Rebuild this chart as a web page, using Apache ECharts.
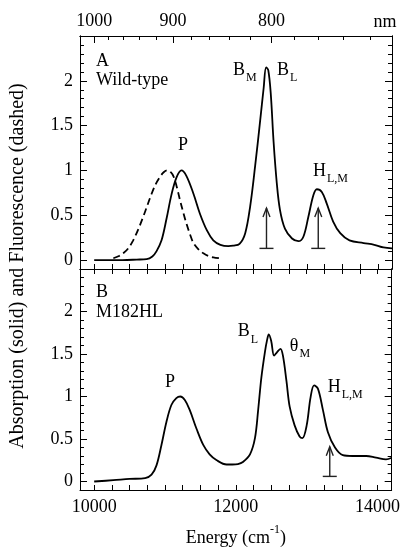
<!DOCTYPE html>
<html><head><meta charset="utf-8">
<script src="https://cdn.jsdelivr.net/npm/echarts@6/dist/echarts.min.js"></script>
<style>html,body{margin:0;padding:0;background:#fff}#c{width:403px;height:548px}</style>
</head><body><div id="c"></div>
<script>
const FONT = 'Liberation Serif';

// ---- data (energy in cm^-1, normalized intensity) ----
const absWildType = [[10000,0.0],[10200,0.0],[10400,0.0],[10600,0.005],[10740,0.01],[10820,0.04],[10880,0.1],[10950,0.22],[11020,0.46],[11090,0.73],[11160,0.92],[11230,1.0],[11300,0.94],[11400,0.74],[11490,0.52],[11590,0.33],[11680,0.22],[11780,0.17],[11890,0.155],[11960,0.16],[12050,0.18],[12130,0.30],[12200,0.6],[12270,1.05],[12340,1.55],[12390,1.92],[12425,2.15],[12455,2.12],[12490,1.86],[12530,1.32],[12575,0.86],[12620,0.56],[12690,0.35],[12790,0.24],[12880,0.21],[12950,0.26],[13020,0.48],[13090,0.72],[13140,0.79],[13210,0.76],[13280,0.63],[13370,0.43],[13470,0.30],[13600,0.22],[13800,0.19],[13950,0.17],[14080,0.14],[14200,0.13]];
const fluWildType = [[10270,0.02],[10350,0.045],[10410,0.075],[10480,0.13],[10550,0.22],[10620,0.34],[10690,0.48],[10750,0.61],[10810,0.74],[10870,0.85],[10930,0.93],[10980,0.98],[11030,1.0],[11080,0.98],[11120,0.93],[11160,0.83],[11210,0.67],[11260,0.52],[11300,0.41],[11350,0.29],[11400,0.19],[11470,0.12],[11540,0.075],[11610,0.045],[11680,0.03],[11770,0.02]];
const absM182HL = [[10000,0.0],[10270,0.015],[10500,0.03],[10720,0.04],[10810,0.08],[10880,0.19],[10950,0.43],[11020,0.70],[11090,0.90],[11160,0.98],[11215,1.0],[11280,0.96],[11350,0.84],[11445,0.62],[11540,0.43],[11630,0.32],[11730,0.25],[11870,0.20],[11950,0.20],[12030,0.205],[12100,0.23],[12200,0.32],[12270,0.51],[12315,0.84],[12360,1.22],[12410,1.52],[12440,1.66],[12465,1.73],[12500,1.65],[12540,1.48],[12580,1.52],[12630,1.56],[12665,1.48],[12715,1.18],[12760,0.88],[12830,0.66],[12900,0.53],[12940,0.51],[13000,0.66],[13055,0.99],[13105,1.13],[13160,1.09],[13230,0.84],[13300,0.58],[13400,0.40],[13510,0.31],[13650,0.30],[13840,0.30],[13980,0.28],[14120,0.26],[14200,0.28]];

// arrows: [energy, from, to]
const arrowsWildType = [[12430,0.13,0.58],[13160,0.13,0.58]];
const arrowsM182HL = [[13326,0.06,0.41]];

// annotations: [energy, value, rich text, align]
const labelsWildType = [
  [10026,2.21,'{m|A}','left'],
  [10026,1.99,'{m|Wild-type}','left'],
  [11958,2.11,'{m|B}{s|M}','left'],
  [12579,2.11,'{m|B}{s|L}','left'],
  [11253,1.27,'{m|P}','center'],
  [13086,0.98,'{m|H}{s|L,M}','left']
];
const labelsM182HL = [
  [10026,2.21,'{m|B}','left'],
  [10026,1.98,'{m|M182HL}','left'],
  [11069,1.15,'{m|P}','center'],
  [12028,1.75,'{m|B}{s|L}','left'],
  [12762,1.58,'{m|θ}{s|M}','left'],
  [13298,1.10,'{m|H}{s|L,M}','left']
];

// ticks / labels
const energyLabels = [10000,12000,14000];
const energyTicks = [10000,10250,10500,10750,11000,11250,11500,11750,12000,12250,12500,12750,13000,13250,13500,13750,14000];
const nmLabels = [1000,900,800];
const nmTicks = [1000,980,960,940,920,900,880,860,840,820,800,780,760,740,720];
const yLabels = [0,0.5,1,1.5,2];
const yMinorTicks = [-0.1,0,0.1,0.2,0.3,0.4,0.5,0.6,0.7,0.8,0.9,1,1.1,1.2,1.3,1.4,1.5,1.6,1.7,1.8,1.9,2,2.1,2.2,2.3,2.4,2.5];

const X_MIN = 9800, X_MAX = 14200, Y_MIN = -0.1, Y_MAX = 2.5;

const RICH = {
  m: {fontSize: 18, fontFamily: FONT, lineHeight: 20, verticalAlign: 'top', color: '#000'},
  s: {fontSize: 12, fontFamily: FONT, lineHeight: 12, padding: [11,0,0,1], verticalAlign: 'top', color: '#000'}
};

const line = {show: true, onZero: false, lineStyle: {color: '#000', width: 1}};
function xAx(grid, pos, ticks, len, extra) {
  return Object.assign({
    type: 'value', gridIndex: grid, position: pos, min: X_MIN, max: X_MAX,
    splitLine: {show: false}, axisLine: line,
    axisTick: {show: true, inside: true, length: len, customValues: ticks, lineStyle: {color: '#000', width: 1}},
    axisLabel: {show: false}
  }, extra || {});
}
function yAx(grid, pos, ticks, len, labels) {
  const a = {
    type: 'value', gridIndex: grid, position: pos, min: Y_MIN, max: Y_MAX,
    splitLine: {show: false}, axisLine: line,
    axisTick: {show: true, inside: true, length: len, customValues: ticks, lineStyle: {color: '#000', width: 1}},
    axisLabel: {show: false}
  };
  if (labels) a.axisLabel = {show: true, customValues: labels, margin: 7, fontSize: 18, fontFamily: FONT, color: '#000', formatter: v => String(v)};
  return a;
}

function arrowRender(arr) {
  return function (params, api) {
    const d = arr[params.dataIndex];
    const b = api.coord([d[0], d[1]]), t = api.coord([d[0], d[2]]);
    const st = {stroke: '#222', lineWidth: 1.4, fill: null};
    return {type: 'group', children: [
      {type: 'line', shape: {x1: b[0], y1: b[1], x2: t[0], y2: t[1]}, style: st},
      {type: 'polyline', shape: {points: [[t[0]-3.5, t[1]+9], [t[0], t[1]], [t[0]+3.5, t[1]+9]]}, style: st},
      {type: 'line', shape: {x1: b[0]-7, y1: b[1], x2: b[0]+7, y2: b[1]}, style: st}
    ]};
  };
}
function labelRender(arr) {
  return function (params, api) {
    const d = arr[params.dataIndex];
    const p = api.coord([d[0], d[1]]);
    return {type: 'text', x: p[0], y: p[1], style: {text: d[2], rich: RICH, fill: '#000', fontSize: 18, fontFamily: FONT, align: d[3], verticalAlign: 'middle'}};
  };
}

const option = {
  animation: false,
  backgroundColor: '#fff',
  textStyle: {fontFamily: FONT},
  grid: [
    {left: 80, top: 36, width: 312, height: 233},
    {left: 80, top: 269, width: 312, height: 232}
  ],
  xAxis: [
    xAx(0, 'bottom', energyTicks, 5),
    xAx(0, 'top', nmLabels.map(n => 1e7/n), 7, {axisLabel: {show: true, customValues: nmLabels.map(n => 1e7/n), margin: 6, fontSize: 18, fontFamily: FONT, color: '#000', formatter: v => String(Math.round(1e7/v))}}),
    xAx(0, 'top', nmTicks.map(n => 1e7/n), 4),
    xAx(1, 'bottom', energyTicks, 5, {
      axisLabel: {show: true, customValues: energyLabels, margin: 8, fontSize: 18, fontFamily: FONT, color: '#000', formatter: v => String(v)},
      name: '{n|Energy (cm}{u|-1}{n|)}', nameLocation: 'middle', nameGap: 34,
      nameTextStyle: {fontFamily: FONT, rich: {
        n: {fontSize: 18, fontFamily: FONT, color: '#000', lineHeight: 18, padding: [5,0,0,0], verticalAlign: 'top'},
        u: {fontSize: 12, fontFamily: FONT, color: '#000', lineHeight: 12, verticalAlign: 'top'}
      }}
    }),
    xAx(1, 'top', energyTicks, 5)
  ],
  yAxis: [
    yAx(0, 'left', yLabels, 7, yLabels),
    yAx(0, 'left', yMinorTicks, 4),
    yAx(0, 'right', yLabels, 7),
    yAx(0, 'right', yMinorTicks, 4),
    yAx(1, 'left', yLabels, 7, yLabels),
    yAx(1, 'left', yMinorTicks, 4),
    yAx(1, 'right', yLabels, 7),
    yAx(1, 'right', yMinorTicks, 4)
  ],
  graphic: [
    {type: 'text', x: 18, y: 266, rotation: Math.PI/2, style: {text: 'Absorption (solid) and Fluorescence (dashed)', fontSize: 20, fontFamily: FONT, fill: '#000', align: 'center', verticalAlign: 'middle'}},
    {type: 'text', x: 385, y: 22, style: {text: 'nm', fontSize: 18, fontFamily: FONT, fill: '#000', align: 'center', verticalAlign: 'middle'}}
  ],
  series: [
    {type: 'line', xAxisIndex: 0, yAxisIndex: 0, data: absWildType, showSymbol: false, smooth: 0.35, lineStyle: {color: '#000', width: 1.8}},
    {type: 'line', xAxisIndex: 0, yAxisIndex: 0, data: fluWildType, showSymbol: false, smooth: 0.35, lineStyle: {color: '#000', width: 1.8, type: [7,4]}},
    {type: 'custom', xAxisIndex: 0, yAxisIndex: 0, data: arrowsWildType.map(a => [a[0], a[1], a[2]]), renderItem: arrowRender(arrowsWildType), clip: false},
    {type: 'custom', xAxisIndex: 0, yAxisIndex: 0, data: labelsWildType.map(a => [a[0], a[1]]), renderItem: labelRender(labelsWildType), clip: false},
    {type: 'line', xAxisIndex: 3, yAxisIndex: 4, data: absM182HL, showSymbol: false, smooth: 0.35, lineStyle: {color: '#000', width: 1.8}},
    {type: 'custom', xAxisIndex: 3, yAxisIndex: 4, data: arrowsM182HL.map(a => [a[0], a[1], a[2]]), renderItem: arrowRender(arrowsM182HL), clip: false},
    {type: 'custom', xAxisIndex: 3, yAxisIndex: 4, data: labelsM182HL.map(a => [a[0], a[1]]), renderItem: labelRender(labelsM182HL), clip: false}
  ]
};
const chart = echarts.init(document.getElementById('c'));
chart.setOption(option);
</script>
</body></html>
